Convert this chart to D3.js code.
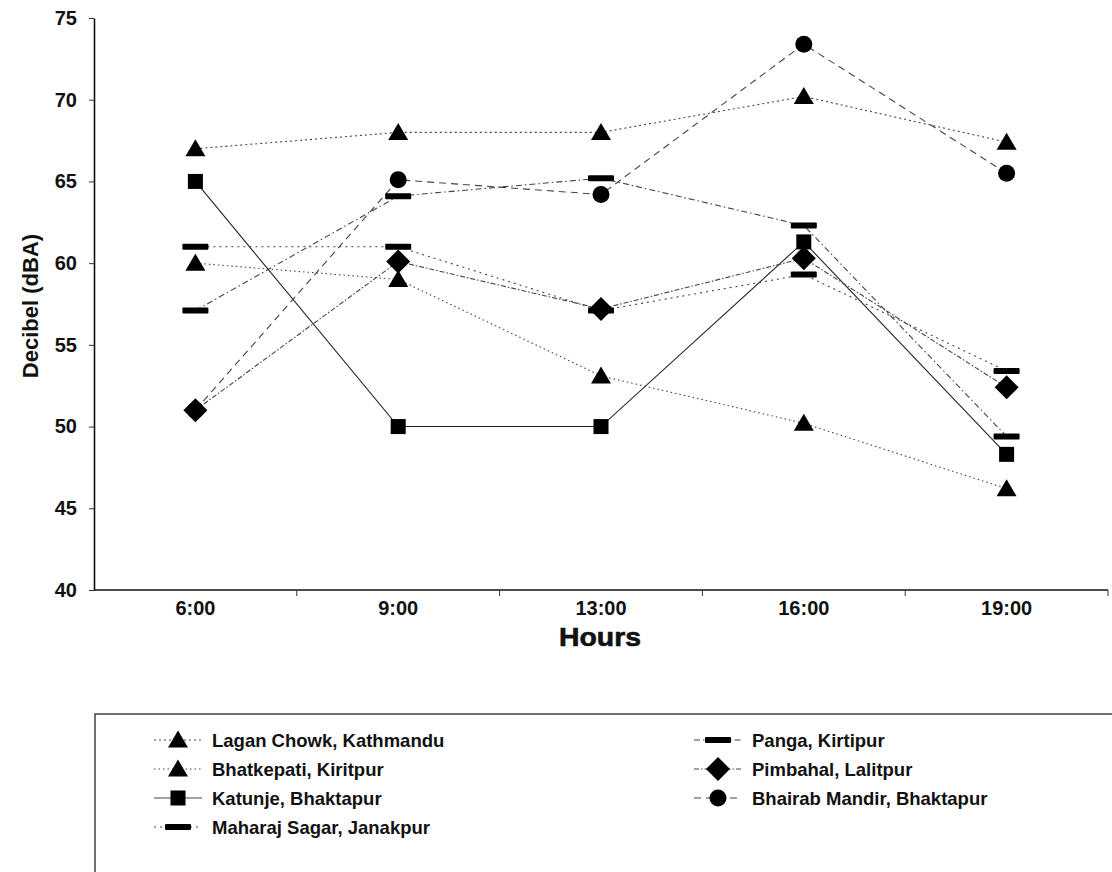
<!DOCTYPE html>
<html>
<head>
<meta charset="utf-8">
<script src="https://cdn.jsdelivr.net/npm/d3@7"></script>
<style>
  html, body { margin: 0; padding: 0; background: #fff; }
  svg { display: block; }
  text { font-family: "Liberation Sans", Arial, sans-serif; font-weight: bold; fill: #111; }
</style>
</head>
<body>
<div id="chart"></div>
<script>
const hours = ['6:00', '9:00', '13:00', '16:00', '19:00'];
const yTicks = [40, 45, 50, 55, 60, 65, 70, 75];

const laganChowk = [67, 68, 68, 70.2, 67.4];
const bhatkepati = [60, 59, 53.1, 50.2, 46.2];
const katunje = [65, 50, 50, 61.3, 48.3];
const maharajSagar = [61, 61, 57.1, 59.3, 53.4];
const panga = [57.1, 64.1, 65.2, 62.3, 49.4];
const pimbahal = [51, 60.1, 57.2, 60.3, 52.4];
const bhairabMandir = [51, 65.1, 64.2, 73.4, 65.5];

// legend order, draw order differs (circle under diamond)
const series = [
  { name: 'Lagan Chowk, Kathmandu', values: laganChowk, shape: 'triangle', dash: '2,3', col: 0, row: 0 },
  { name: 'Bhatkepati, Kiritpur', values: bhatkepati, shape: 'triangle', dash: '1.5,3', col: 0, row: 1 },
  { name: 'Katunje, Bhaktapur', values: katunje, shape: 'square', dash: null, col: 0, row: 2 },
  { name: 'Maharaj Sagar, Janakpur', values: maharajSagar, shape: 'dash', dash: '2,4', col: 0, row: 3 },
  { name: 'Panga, Kirtipur', values: panga, shape: 'dash', dash: '6,3,1.5,3', col: 1, row: 0 },
  { name: 'Bhairab Mandir, Bhaktapur', values: bhairabMandir, shape: 'circle', dash: '7,5', col: 1, row: 2 },
  { name: 'Pimbahal, Lalitpur', values: pimbahal, shape: 'diamond', dash: '5,2,1.5,2', col: 1, row: 1 }
];

const W = 1112, H = 872;
const svg = d3.select('#chart').append('svg').attr('width', W).attr('height', H);

const x = d3.scaleBand().domain(hours).range([94, 1108]);
const y = d3.scaleLinear().domain([40, 75]).range([590, 18]);
const cx = h => x(h) + x.bandwidth() / 2;

function marker(g, shape, px, py) {
  if (shape === 'triangle') {
    g.append('path').attr('d', `M${px},${py - 9.5}L${px + 10},${py + 7.5}L${px - 10},${py + 7.5}Z`).attr('fill', '#000');
  } else if (shape === 'square') {
    g.append('rect').attr('x', px - 7.5).attr('y', py - 7.5).attr('width', 15).attr('height', 15).attr('fill', '#000');
  } else if (shape === 'dash') {
    g.append('rect').attr('x', px - 13).attr('y', py - 3).attr('width', 26).attr('height', 6).attr('rx', 1).attr('fill', '#000');
  } else if (shape === 'diamond') {
    g.append('path').attr('d', `M${px},${py - 12}L${px + 12},${py}L${px},${py + 12}L${px - 12},${py}Z`).attr('fill', '#000');
  } else {
    g.append('circle').attr('cx', px).attr('cy', py).attr('r', 8.5).attr('fill', '#000');
  }
}

// axes
const yAxis = svg.append('g').attr('transform', 'translate(94,0)')
  .call(d3.axisLeft(y).tickValues(yTicks).tickSize(5).tickSizeOuter(0).tickPadding(12));
yAxis.select('.domain').attr('stroke', '#111').attr('stroke-width', 1.6);
yAxis.selectAll('.tick line').attr('stroke', '#333');
yAxis.selectAll('.tick text').attr('font-size', 20).attr('font-family', '"Liberation Sans", Arial, sans-serif')
  .attr('font-weight', 'bold').attr('fill', '#111');

const xAxis = svg.append('g').attr('transform', 'translate(0,590)');
xAxis.append('line').attr('x1', x.range()[0]).attr('x2', x.range()[1]).attr('stroke', '#111').attr('stroke-width', 1.6);
xAxis.selectAll('line.tk').data(hours.map(h => x(h) + x.bandwidth())).join('line').attr('class', 'tk')
  .attr('x1', d => d).attr('x2', d => d).attr('y1', 0).attr('y2', 6).attr('stroke', '#333');
xAxis.selectAll('text').data(hours).join('text')
  .attr('x', cx).attr('y', 25).attr('text-anchor', 'middle').attr('font-size', 20).text(d => d);

svg.append('text').attr('x', 600).attr('y', 646).attr('text-anchor', 'middle')
  .attr('font-size', 25).attr('textLength', 82).attr('lengthAdjust', 'spacingAndGlyphs')
  .attr('stroke', '#111').attr('stroke-width', 0.6).text('Hours');
svg.append('text').attr('transform', 'translate(38,306) rotate(-90)').attr('text-anchor', 'middle')
  .attr('font-size', 22).text('Decibel (dBA)');

// series lines and markers
const line = d3.line().x((d, i) => cx(hours[i])).y(d => y(d));
const plot = svg.append('g');
series.forEach(s => {
  plot.append('path').attr('d', line(s.values)).attr('fill', 'none')
    .attr('stroke', s.dash ? '#444' : '#222').attr('stroke-width', 1.1)
    .attr('stroke-dasharray', s.dash);
});
series.forEach(s => {
  const g = plot.append('g');
  s.values.forEach((v, i) => marker(g, s.shape, cx(hours[i]), y(v)));
});

// legend
const leg = svg.append('g');
leg.append('rect').attr('x', 95).attr('y', 714).attr('width', 1030).attr('height', 200)
  .attr('fill', 'none').attr('stroke', '#111').attr('stroke-width', 1.2);
const colX = [178, 718], rowY = [740, 769, 798, 827];
series.forEach(s => {
  const mx = colX[s.col], my = rowY[s.row];
  const g = leg.append('g');
  g.append('line').attr('x1', mx - 24).attr('x2', mx + 24).attr('y1', my).attr('y2', my)
    .attr('stroke', '#444').attr('stroke-width', 1).attr('stroke-dasharray', s.dash);
  marker(g, s.shape, mx, my);
  g.append('text').attr('x', mx + 34).attr('y', my + 6.5).attr('font-size', 18.5).text(s.name);
});
</script>
</body>
</html>
